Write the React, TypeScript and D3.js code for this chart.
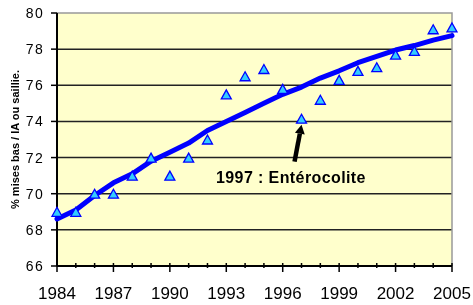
import React, { useEffect, useRef } from 'react'
import * as d3 from 'd3'

const years = [1984, 1985, 1986, 1987, 1988, 1989, 1990, 1991, 1992, 1993, 1994, 1995, 1996, 1997, 1998, 1999, 2000, 2001, 2002, 2003, 2004, 2005]
const observed = [69.0, 69.0, 70.0, 70.0, 71.0, 72.0, 71.0, 72.0, 73.0, 75.5, 76.5, 76.9, 75.8, 74.15, 75.2, 76.3, 76.8, 77.0, 77.7, 77.9, 79.1, 79.2]
const trend = [68.6, 69.1, 69.9, 70.6, 71.1, 71.8, 72.3, 72.8, 73.5, 74.0, 74.5, 75.0, 75.5, 75.9, 76.4, 76.8, 77.25, 77.6, 77.95, 78.2, 78.5, 78.75]
const yTicks = [66, 68, 70, 72, 74, 76, 78, 80]
const xTicks = [1984, 1987, 1990, 1993, 1996, 1999, 2002, 2005]
const yTitle = '% mises bas / IA ou saillie.'
const noteText = '1997 : Entérocolite'
const noteYear = 1997

export default function App() {
  const ref = useRef<HTMLDivElement | null>(null)

  useEffect(() => {
    const container = d3.select(ref.current!)
    container.selectAll('*').remove()
    const width = 473
    const height = 305
    const margin = { top: 13, right: 21, bottom: 39, left: 57 }
    const svg = container.append('svg')
      .attr('width', width).attr('height', height)
      .style('display', 'block')
      .style('font-family', 'Arial, "Liberation Sans", sans-serif')

    const x = d3.scaleLinear().domain([1984, 2005]).range([margin.left, width - margin.right])
    const y = d3.scaleLinear().domain([66, 80]).range([height - margin.bottom, margin.top])

    // plot area
    svg.append('rect')
      .attr('x', x(1984)).attr('y', y(80))
      .attr('width', x(2005) - x(1984)).attr('height', y(66) - y(80))
      .attr('fill', '#ffffcc')

    // gridlines
    svg.append('g').selectAll('line').data(yTicks.filter(t => t > 66 && t < 80)).enter().append('line')
      .attr('x1', x(1984)).attr('x2', x(2005))
      .attr('y1', d => y(d)).attr('y2', d => y(d))
      .attr('stroke', '#222').attr('stroke-width', 1.5)

    // top / right border
    svg.append('path')
      .attr('d', `M${x(1984)},${y(80)}H${x(2005)}V${y(66)}`)
      .attr('fill', 'none').attr('stroke', '#999').attr('stroke-width', 1.5)

    // left axis
    const gy = svg.append('g')
    gy.append('line').attr('x1', x(1984)).attr('x2', x(1984)).attr('y1', y(80)).attr('y2', y(66))
      .attr('stroke', '#000').attr('stroke-width', 2)
    gy.selectAll('line.tick').data(yTicks).enter().append('line').attr('class', 'tick')
      .attr('x1', x(1984) - 6).attr('x2', x(1984))
      .attr('y1', d => y(d)).attr('y2', d => y(d))
      .attr('stroke', '#000').attr('stroke-width', 1.5)
    gy.selectAll('text').data(yTicks).enter().append('text')
      .attr('x', x(1984) - 13).attr('y', d => y(d))
      .attr('dy', '0.36em').attr('text-anchor', 'end')
      .attr('font-size', 14).attr('letter-spacing', 1.3)
      .text(d => String(d))

    // bottom axis
    const gx = svg.append('g')
    gx.append('line').attr('x1', x(1984)).attr('x2', x(2005)).attr('y1', y(66)).attr('y2', y(66))
      .attr('stroke', '#000').attr('stroke-width', 2)
    gx.selectAll('line.minor').data(years).enter().append('line').attr('class', 'minor')
      .attr('x1', d => x(d)).attr('x2', d => x(d))
      .attr('y1', y(66) - 3).attr('y2', d => xTicks.includes(d) ? y(66) + 6 : y(66) + 2)
      .attr('stroke', '#000').attr('stroke-width', 1.5)
    gx.selectAll('text').data(xTicks).enter().append('text')
      .attr('x', d => x(d)).attr('y', 299)
      .attr('text-anchor', 'middle').attr('font-size', 17)
      .text(d => String(d))

    // y title
    svg.append('text')
      .attr('transform', `translate(19,${y(73)}) rotate(-90)`)
      .attr('text-anchor', 'middle').attr('font-size', 11).attr('font-weight', 700)
      .text(yTitle)

    // trend line
    const line = d3.line<number>().x((_, i) => x(years[i])).y(d => y(d))
    svg.append('path').datum(trend)
      .attr('d', line)
      .attr('fill', 'none').attr('stroke', '#0000ff').attr('stroke-width', 5)
      .attr('stroke-linejoin', 'round').attr('stroke-linecap', 'round')

    // observed triangles
    svg.append('g').selectAll('path').data(observed).enter().append('path')
      .attr('transform', (d, i) => `translate(${x(years[i])},${y(d)})`)
      .attr('d', 'M0,-4.5L5,4.5L-5,4.5Z')
      .attr('fill', '#33ccff').attr('stroke', '#0000ff').attr('stroke-width', 1.3)

    // annotation arrow
    const vi = years.indexOf(noteYear)
    const hx = x(noteYear), hy = y(observed[vi]) + 6
    const tx = hx - 7, ty = y(72) + 4
    const ang = Math.atan2(hy - ty, hx - tx)
    const L = 9, W = 5
    const bx = hx - L * Math.cos(ang), by = hy - L * Math.sin(ang)
    svg.append('line').attr('x1', tx).attr('y1', ty).attr('x2', bx).attr('y2', by)
      .attr('stroke', '#000').attr('stroke-width', 4.5)
    svg.append('path')
      .attr('d', `M${hx},${hy}L${bx + W * Math.sin(ang)},${by - W * Math.cos(ang)}L${bx - W * Math.sin(ang)},${by + W * Math.cos(ang)}Z`)
      .attr('fill', '#000')
    svg.append('text').attr('x', 216).attr('y', 183)
      .attr('font-size', 16).attr('font-weight', 700).attr('letter-spacing', 0.4)
      .text(noteText)
  }, [])

  return <div ref={ref} style={{ position: 'fixed', left: 0, top: 0 }} />
}
